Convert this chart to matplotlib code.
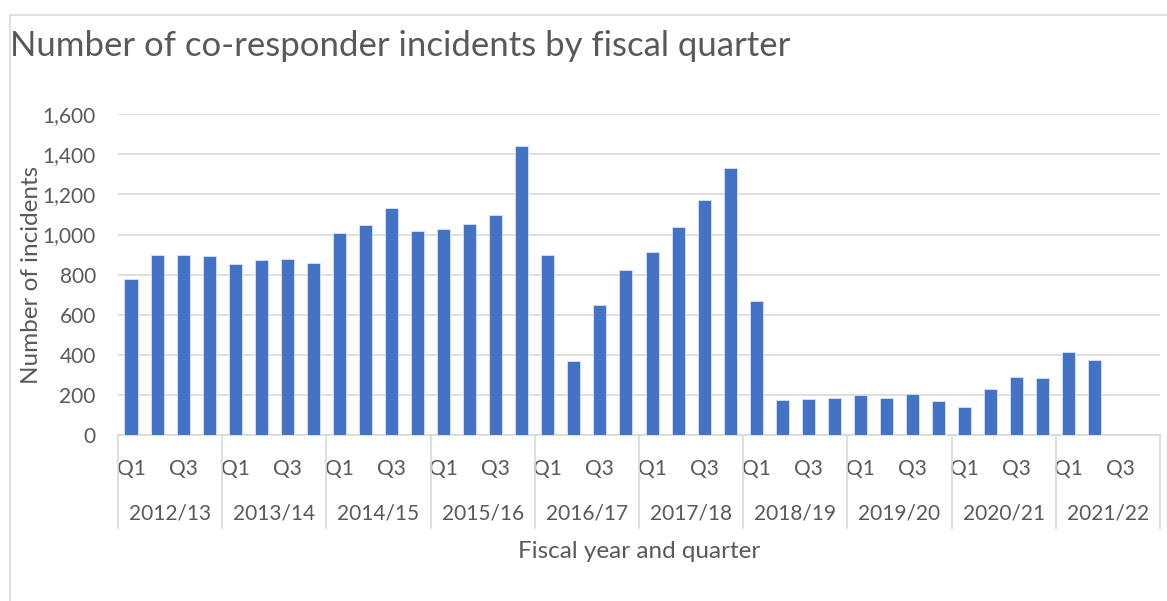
import numpy as np
import matplotlib.pyplot as plt
from matplotlib import transforms

plt.rcParams['font.family'] = ['Lato', 'DejaVu Sans']

fiscal_years = ['2012/13', '2013/14', '2014/15', '2015/16', '2016/17',
                '2017/18', '2018/19', '2019/20', '2020/21', '2021/22']
quarters = ['Q1', 'Q2', 'Q3', 'Q4']
shown_quarters = ['Q1', 'Q3']

# incidents per quarter, starting 2012/13 Q1 (latest year only has Q1-Q2)
incidents = [780, 900, 898, 895,
             855, 872, 880, 860,
             1008, 1050, 1133, 1016,
             1030, 1055, 1100, 1440,
             900, 370, 650, 825,
             915, 1038, 1170, 1330,
             670, 177, 180, 183,
             200, 183, 203, 170,
             138, 228, 290, 282,
             415, 372]

grey_text = '#595959'
grid_grey = '#d9d9d9'
bar_blue = '#4472c4'

n_slots = len(fiscal_years) * len(quarters)

fig = plt.figure(figsize=(11.67, 6.01), dpi=100)
ax = fig.add_axes([0.1011, 0.2762, 0.8929, 0.5336])

x = np.arange(len(incidents))
ax.bar(x, incidents, width=0.5, color=bar_blue, edgecolor='#dae3f3',
       linewidth=0.6, zorder=3)

ax.set_xlim(-0.5, n_slots - 0.5)
ax.set_ylim(0, 1600)
ax.set_yticks(np.arange(0, 1601, 200))
ax.set_yticklabels([f'{v:,}' for v in range(0, 1601, 200)])
ax.yaxis.grid(True, color=grid_grey, linewidth=1.2, zorder=0)
ax.tick_params(axis='y', length=0, pad=16, labelsize=15, labelcolor=grey_text)

# quarter labels on every slot, only Q1 and Q3 printed
qlabels = [q if q in shown_quarters else '' for _ in fiscal_years for q in quarters]
ax.set_xticks(np.arange(n_slots))
ax.set_xticklabels(qlabels)
ax.tick_params(axis='x', length=0, pad=17, labelsize=15, labelcolor=grey_text)

for side in ['top', 'right', 'left']:
    ax.spines[side].set_visible(False)
ax.spines['bottom'].set_color(grid_grey)
ax.spines['bottom'].set_linewidth(1.2)

# fiscal year labels and group separators below the axis
trans = transforms.blended_transform_factory(ax.transData, ax.transAxes)
for i, fy in enumerate(fiscal_years):
    centre = i * len(quarters) + (len(quarters) - 1) / 2
    ax.text(centre, -0.245, fy, transform=trans, ha='center', va='center',
            fontsize=15, color=grey_text)
for i in range(len(fiscal_years) + 1):
    xb = i * len(quarters) - 0.5
    ax.plot([xb, xb], [0, -0.29], transform=trans, color=grid_grey,
            linewidth=1.2, clip_on=False)

ax.set_ylabel('Number of incidents', fontsize=17.5, color=grey_text)
ax.yaxis.set_label_coords(-0.073, 0.5)
ax.set_xlabel('Fiscal year and quarter', fontsize=17.5, color=grey_text)
ax.xaxis.set_label_coords(0.5, -0.33)

fig.text(0.0086, 0.923, 'Number of co-responder incidents by fiscal quarter',
         fontsize=25, color=grey_text, ha='left', va='center')

# light chart border on the left and top
fig.add_artist(plt.Line2D([0.0086, 0.0086], [0, 0.975], color=grid_grey,
                          linewidth=1.2, transform=fig.transFigure))
fig.add_artist(plt.Line2D([0.0086, 1.0], [0.975, 0.975], color=grid_grey,
                          linewidth=1.2, transform=fig.transFigure))

fig.savefig('out.png', dpi=100)
